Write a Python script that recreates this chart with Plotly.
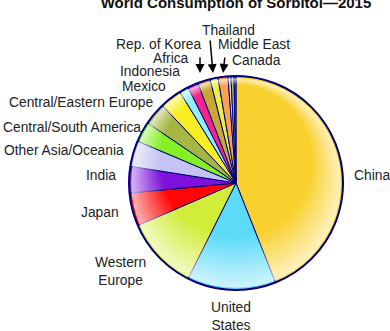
import base64
import plotly.graph_objects as go

# ---- data ----
regions = ["China", "United States", "Western Europe", "Japan", "India",
           "Other Asia/Oceania", "Central/South America", "Central/Eastern Europe",
           "Mexico", "Indonesia", "Africa", "Rep. of Korea", "Thailand",
           "Middle East", "Canada", "Other A", "Other B"]
shares = [44.0, 13.4, 11.1, 5.0, 4.0, 3.9, 3.1, 3.4, 3.3, 1.4, 1.6, 1.9,
          1.2, 1.5, 0.45, 0.45, 0.3]
colors = ["#F9D12E", "#5CDAF8", "#D2EC3A", "#FF0505", "#7E12DA", "#C4C4F2",
          "#84F024", "#A6B642", "#F8EE22", "#92EEF8", "#F0268E", "#C8A832",
          "#E8F044", "#F8A252", "#F8CDB4", "#A8C0A0", "#2E7A3E"]

# label text and placement (pixel positions in the 390x331 canvas)
label_text = ["China", "United<br>States", "Western<br>Europe", "Japan", "India",
              "Other Asia/Oceania", "Central/South America", "Central/Eastern Europe",
              "Mexico", "Indonesia", "Africa", "Rep. of Korea", "Thailand",
              "Middle East", "Canada"]
label_px = [(353, 175, "left"), (231, 316, "center"), (120, 271, "center"),
            (120, 212, "right"), (117, 175, "right"), (125, 150, "right"),
            (142, 127, "right"), (155, 103, "right"), (167, 87, "right"),
            (181, 72, "right"), (190, 59, "right"), (202, 45, "right"),
            (228, 30, "center"), (217, 45, "left"), (231, 60, "left")]
# arrows: (tip x, tip y, tail x, tail y)
arrows = [(200, 73, 200, 56), (213, 73, 210, 39), (223, 73, 225, 56)]

W, H = 390, 331
CX, CY, R = 236, 183, 107

def px(x):
    return x / W

def py(y):
    return 1 - y / H

fig = go.Figure()
fig.add_trace(go.Pie(
    labels=regions, values=shares, sort=False, direction="clockwise",
    rotation=0, textinfo="none", hoverinfo="label+percent",
    marker=dict(colors=colors, line=dict(color="#00007A", width=1)),
    domain=dict(x=[px(CX - R), px(CX + R)], y=[py(CY + R), py(CY - R)]),
    showlegend=False,
))

# glossy highlight overlay (radial gradient, brighter toward lower rim)
svg = ('<svg xmlns="http://www.w3.org/2000/svg" width="200" height="200" viewBox="0 0 200 200">'
       '<defs><radialGradient id="g" cx="0.5" cy="0.5" r="0.5" fx="0.5" fy="0.12">'
       '<stop offset="0" stop-color="#ffffff" stop-opacity="0"/>'
       '<stop offset="0.72" stop-color="#ffffff" stop-opacity="0"/>'
       '<stop offset="1" stop-color="#ffffff" stop-opacity="0.7"/>'
       '</radialGradient></defs>'
       '<circle cx="100" cy="100" r="98" fill="url(#g)"/></svg>')
src = "data:image/svg+xml;base64," + base64.b64encode(svg.encode()).decode()
fig.add_layout_image(dict(source=src, xref="paper", yref="paper",
                          x=px(CX - R), y=py(CY - R), sizex=2 * R / W, sizey=2 * R / H,
                          xanchor="left", yanchor="top", sizing="stretch",
                          layer="above", opacity=1))

# outer rim
fig.add_shape(type="circle", xref="paper", yref="paper",
              x0=px(CX - R), x1=px(CX + R), y0=py(CY + R), y1=py(CY - R),
              line=dict(color="#00007A", width=2), layer="above")

for t, (x, y, anc) in zip(label_text, label_px):
    fig.add_annotation(text=t, x=px(x), y=py(y), xref="paper", yref="paper",
                       xanchor=anc, yanchor="middle", showarrow=False, align="center",
                       borderpad=0, font=dict(size=13.8, color="#222222"))

for tx, ty, sx, sy in arrows:
    fig.add_annotation(text="", x=px(tx), y=py(ty), xref="paper", yref="paper",
                       ax=sx - tx, ay=sy - ty, axref="pixel", ayref="pixel",
                       showarrow=True, arrowhead=2, arrowsize=1.2, arrowwidth=1.5,
                       arrowcolor="#000000")

fig.update_layout(
    width=W, height=H, margin=dict(l=0, r=0, t=0, b=0),
    paper_bgcolor="white", plot_bgcolor="white",
    font=dict(family="Arial, Liberation Sans, sans-serif", color="#222222"),
    title=dict(text="<b>World Consumption of Sorbitol\u20142015</b>",
               x=px(236), xanchor="center", y=1 - 3 / H, yanchor="middle",
               xref="paper", yref="container",
               font=dict(size=15, color="#111111")),
)

fig.write_html("out.html")
